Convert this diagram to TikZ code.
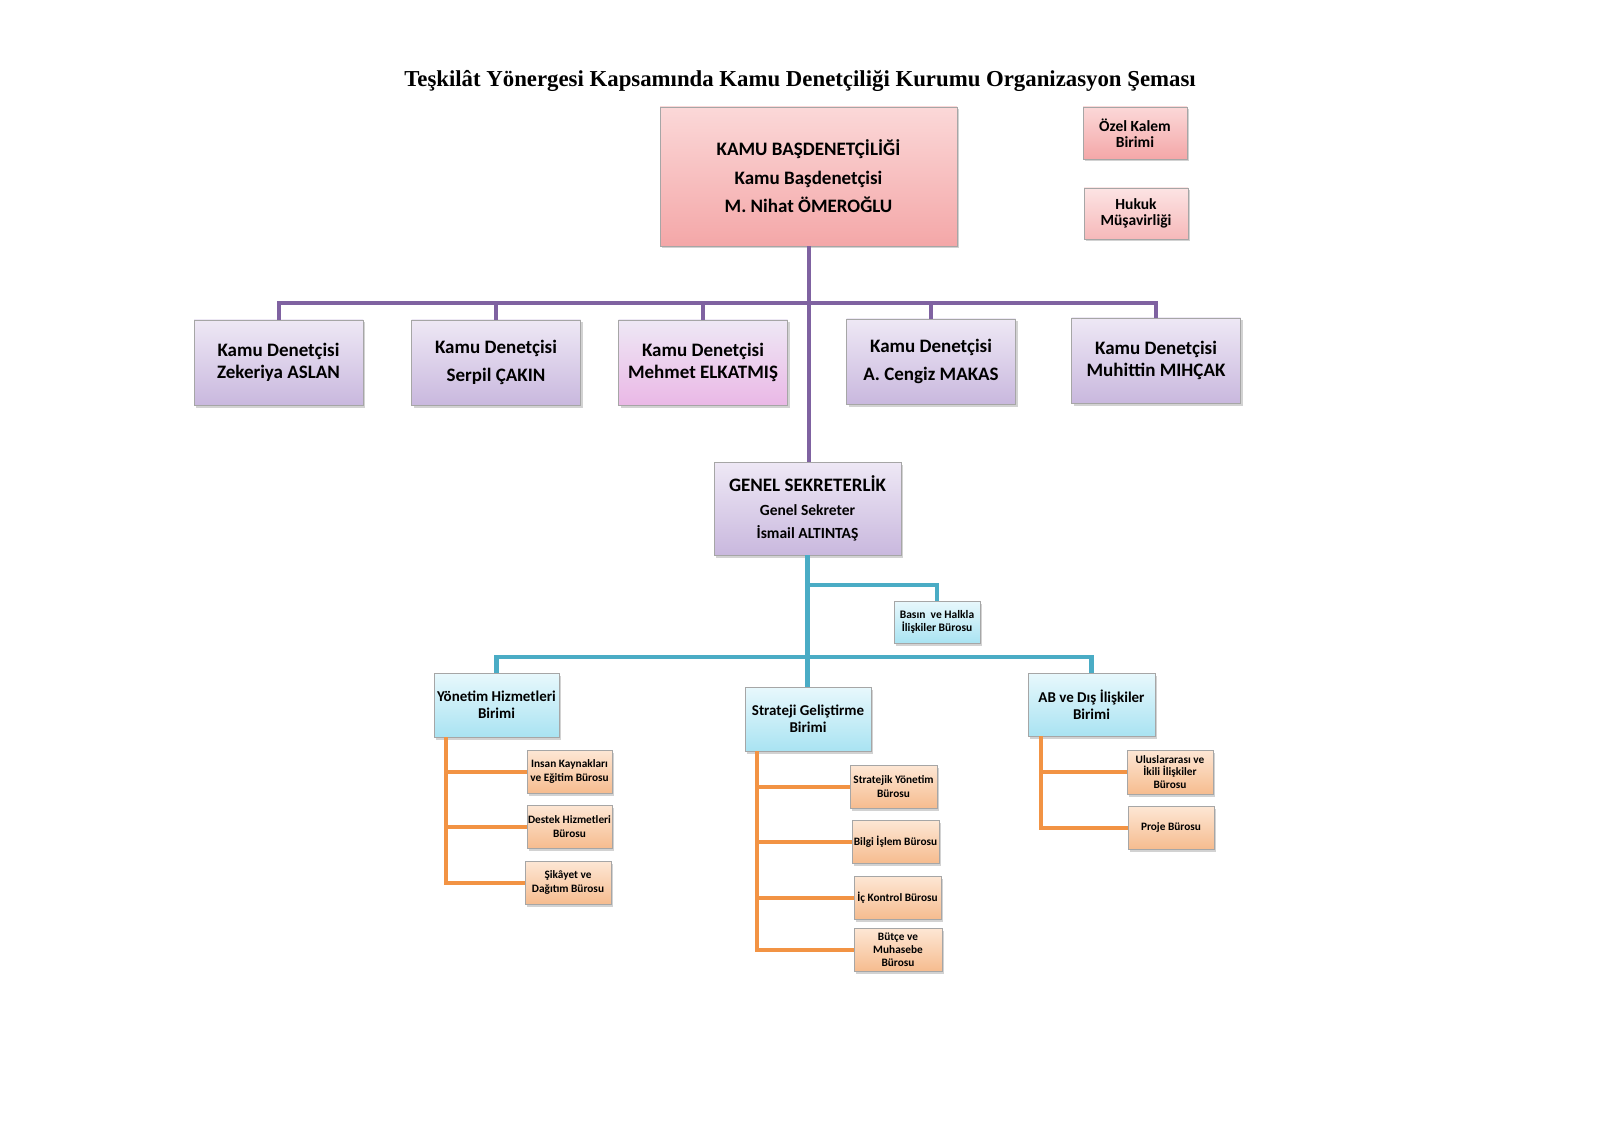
\documentclass[tikz,border=0pt]{standalone}
\usepackage{fontspec}
\setmainfont{Liberation Serif}
\newfontfamily\calfont{Carlito}
\usetikzlibrary{shadows}
\definecolor{plinec}{HTML}{7F62A1}
\definecolor{tlinec}{HTML}{4AACC5}
\definecolor{olinec}{HTML}{F29344}
\definecolor{purtop}{HTML}{EEE8F5}
\definecolor{purmid}{HTML}{D8C9E7}
\definecolor{purbot}{HTML}{C9B8DE}
\definecolor{tealtop}{HTML}{E8F8FC}
\definecolor{tealbot}{HTML}{A9E3F2}
\definecolor{ortop}{HTML}{FDE7D5}
\definecolor{orbot}{HTML}{F6BC8F}
\definecolor{pinkbot}{HTML}{EAB8E6}
\definecolor{redtop}{HTML}{FBD8D8}
\definecolor{redbot}{HTML}{F4A7A8}
\tikzset{
  basebox/.style={rectangle, inner sep=1pt, align=center, text=black,
    drop shadow={opacity=0.35, shadow xshift=2pt, shadow yshift=-2.5pt},
    line width=0.8pt, draw=black!35},
  redbox/.style={basebox, top color=redtop, bottom color=redbot},
  purbox/.style={basebox, top color=purtop, bottom color=purbot},
  tealbox/.style={basebox, top color=tealtop, bottom color=tealbot},
  orbox/.style={basebox, top color=ortop, bottom color=orbot},
  pline/.style={draw=plinec, line width=4pt},
  tline/.style={draw=tlinec, line width=4.5pt},
  oline/.style={draw=olinec, line width=4pt},
}
\begin{document}
\begin{tikzpicture}[x=1pt,y=-1pt]
\fill[white] (0,0) rectangle (1600,1131);
\useasboundingbox (0,0) rectangle (1600,1131);

% title
\node[font=\bfseries\fontsize{22.8}{26}\selectfont] (title) at (800,81)
  {Teşkilât Yönergesi Kapsamında Kamu Denetçiliği Kurumu Organizasyon Şeması};

% top
\node[redbox, minimum width=297pt, minimum height=139pt,
  font=\calfont\bfseries\fontsize{19}{28.5}\selectfont] (main) at (808.5,176.5)
  {KAMU BAŞDENETÇİLİĞİ\\Kamu Başdenetçisi\\M. Nihat ÖMEROĞLU};
\node[redbox, minimum width=104pt, minimum height=52pt,
  font=\calfont\bfseries\fontsize{15.5}{16.5}\selectfont] (ozel) at (1135,133)
  {Özel Kalem\\Birimi};
\node[redbox, top color=redtop!70!white, bottom color=redbot!80!white, minimum width=104pt, minimum height=51pt,
  font=\calfont\bfseries\fontsize{15.5}{16.5}\selectfont] (hukuk) at (1136,213.5)
  {Hukuk\\Müşavirliği};

% denetçiler
\tikzset{drow/.style={purbox, minimum width=169pt, minimum height=85pt,
  font=\calfont\bfseries\fontsize{19}{21.5}\selectfont}}
\node[drow] (d1) at (278.5,362.5) {Kamu Denetçisi\\Zekeriya ASLAN};
\node[drow, font=\calfont\bfseries\fontsize{19}{28}\selectfont] (d2) at (496,362.5) {Kamu Denetçisi\\Serpil ÇAKIN};
\node[drow, top color=purtop, middle color=purmid, bottom color=pinkbot] (d3) at (703,362.5) {Kamu Denetçisi\\Mehmet ELKATMIŞ};
\node[drow, font=\calfont\bfseries\fontsize{19}{27.5}\selectfont] (d4) at (931,361.5) {Kamu Denetçisi\\A. Cengiz MAKAS};
\node[drow] (d5) at (1156,360.5) {Kamu Denetçisi\\Muhittin MIHÇAK};

% genel sekreterlik
\node[purbox, minimum width=187pt, minimum height=93pt, font=\calfont\bfseries\fontsize{15.5}{23.5}\selectfont] (gs) at (807.5,508.5)
  {{\fontsize{19}{23.5}\selectfont GENEL SEKRETERLİK}\\Genel Sekreter\\İsmail ALTINTAŞ};

\node[tealbox, minimum width=86pt, minimum height=42pt, font=\calfont\bfseries\fontsize{11.5}{13.5}\selectfont] (basin) at (937,622)
  {Basın~ ve Halkla\\İlişkiler Bürosu};

% birimler
\tikzset{brow/.style={tealbox, minimum width=126pt, minimum height=64pt,
  font=\calfont\bfseries\fontsize{15}{16.8}\selectfont}}
\node[brow, minimum width=125pt] (yh) at (496.5,705) {Yönetim Hizmetleri\\Birimi};
\node[brow] (sg) at (808,719) {Strateji Geliştirme\\Birimi};
\node[brow, minimum width=127pt, minimum height=63pt] (ab) at (1091.5,704.5) {AB ve Dış İlişkiler\\Birimi};

% bürolar
\tikzset{orow/.style={orbox, minimum width=86pt, minimum height=43pt,
  font=\calfont\bfseries\fontsize{11.3}{13.8}\selectfont}}
\node[orow, minimum width=85pt] (ik) at (569.5,771.5) {Insan Kaynakları\\ve Eğitim Bürosu};
\node[orow, minimum width=85pt] (dh) at (569.5,826.5) {Destek Hizmetleri\\Bürosu};
\node[orow] (sd) at (568,882.5) {Şikâyet ve\\Dağıtım Bürosu};

\node[orow, minimum width=87pt] (sy) at (893.5,786.5) {Stratejik Yönetim\\Bürosu};
\node[orow, minimum width=87pt] (bi) at (895.5,841.5) {Bilgi İşlem Bürosu};
\node[orow, minimum width=87pt] (ic) at (897.5,897.5) {İç Kontrol Bürosu};
\node[orow, minimum width=88pt, font=\calfont\bfseries\fontsize{11.3}{12.8}\selectfont] (bm) at (898,949.5) {Bütçe ve\\Muhasebe\\Bürosu};

\node[orow, minimum height=44pt, font=\calfont\bfseries\fontsize{11.3}{12.5}\selectfont] (ui) at (1170,772) {Uluslararası ve\\İkili İlişkiler\\Bürosu};
\node[orow] (pb) at (1171,827.5) {Proje Bürosu};

% purple connectors
\coordinate (pbar) at (0,303);
\draw[pline] (main.south) -- (main.south |- gs.north);
\draw[pline] (d1.north) -- (d1.north |- pbar) -- (d5.north |- pbar) -- (d5.north);
\draw[pline] (d2.north) -- (d2.north |- pbar);
\draw[pline] (d3.north) -- (d3.north |- pbar);
\draw[pline] (d4.north) -- (d4.north |- pbar);

% teal connectors
\coordinate (tbr) at (0,585);
\coordinate (tbar) at (0,657);
\draw[tline] (gs.south) -- (gs.south |- sg.north);
\draw[tline] (gs.south |- tbr) -| (basin.north);
\draw[tline] (yh.north) -- (yh.north |- tbar) -- (ab.north |- tbar) -- (ab.north);

% orange connectors
\coordinate (yv) at ([xshift=12pt]yh.south west);
\draw[oline] (yv) |- (sd.west);
\draw[oline] (yv |- ik.west) -- (ik.west);
\draw[oline] (yv |- dh.west) -- (dh.west);

\coordinate (sv) at ([xshift=12pt]sg.south west);
\draw[oline] (sv) |- (bm.west);
\draw[oline] (sv |- sy.west) -- (sy.west);
\draw[oline] (sv |- bi.west) -- (bi.west);
\draw[oline] (sv |- ic.west) -- (ic.west);

\coordinate (av) at ([xshift=13pt]ab.south west);
\draw[oline] (av) |- (pb.west);
\draw[oline] (av |- ui.west) -- (ui.west);
\end{tikzpicture}
\end{document}
